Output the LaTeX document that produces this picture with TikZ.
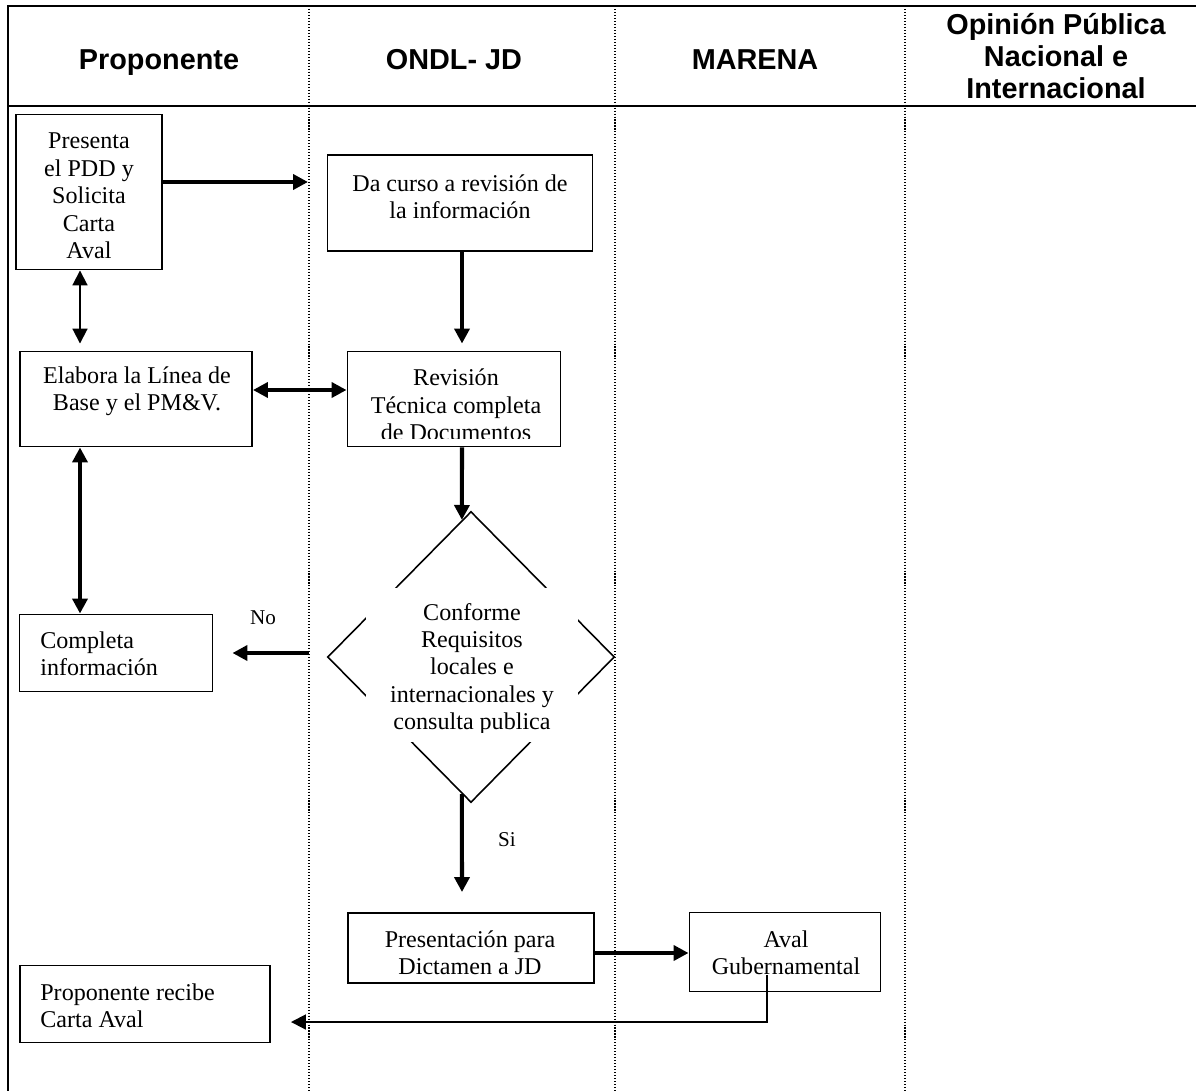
\documentclass[tikz,border=0pt]{standalone}
\usepackage{fontspec}
\setmainfont{Liberation Serif}
\newfontfamily\headfont{Liberation Sans}
\usetikzlibrary{arrows.meta,shapes.geometric,calc}
\newlength\px
\setlength\px{0.02cm}

\tikzset{
  frame/.style={line width=1.7pt},
  lanesep/.style={line width=0.6pt,dash pattern=on 0.6pt off 1.1pt},
  head/.style={font=\headfont\bfseries\fontsize{16.4}{18.4}\selectfont,align=center,inner sep=0pt},
  box/.style={draw,rectangle,line width=1.1pt,inner sep=0pt},
  txt/.style={font=\fontsize{13.7}{15.6}\selectfont,align=center,inner sep=0pt},
  tag/.style={font=\fontsize{12}{14}\selectfont,inner sep=0pt},
  flow/.style={line width=2.3pt,->},
  link/.style={line width=1.1pt,->}
}

\begin{document}
\begin{tikzpicture}[x=0.02cm,y=-0.02cm,>={Triangle[length=8.5pt,width=8.5pt]}]
  \useasboundingbox (0,0) rectangle (1196,1091);
  % lanes
  \draw[frame] (1196,6) -- (8,6) -- (8,1091);
  \draw[frame] (8,106) -- (1196,106);
  \foreach \x in {309,615,905}
    \draw[lanesep] (\x,6) -- (\x,1091);
  \node[head] (hprop) at (159,63) {Proponente};
  \node[head] (hondl) at (454,60) {ONDL- JD};
  \node[head] (hmarena) at (755,60) {MARENA};
  \node[head] (hopinion) at (1056,56) {Opinión Pública\\Nacional e\\Internacional};

  % Proponente
  \node[box,minimum width=146\px,minimum height=155\px] (presenta) at (89,192) {};
  \node[txt] (presenta-t) at (89,196) {Presenta\\el PDD y\\Solicita\\Carta\\Aval};
  \node[box,minimum width=232\px,minimum height=95\px] (elabora) at (136,399) {};
  \node[txt] (elabora-t) at (137,391) {Elabora la Línea de\\Base y el PM\&V.};
  \node[box,minimum width=193\px,minimum height=77\px] (completa) at (116,653) {};
  \node[txt,align=left,anchor=west] (completa-t) at (40,654) {Completa\\información};
  \node[box,minimum width=250\px,minimum height=77\px] (recibe) at (145,1004) {};
  \node[txt,align=left,anchor=west] (recibe-t) at (40,1006) {Proponente recibe\\Carta Aval};

  % ONDL- JD
  \node[box,minimum width=265\px,minimum height=96\px] (dacurso) at (460,203) {};
  \node[txt] (dacurso-t) at (460,197) {Da curso a revisión de\\la información};
  \node[box,minimum width=213\px,minimum height=95\px] (revision) at (454,399) {};
  \begin{scope}
    \clip (349,353) rectangle (560,438);
    \node[txt] (revision-t) at (456,405) {Revisión\\Técnica completa\\de Documentos};
  \end{scope}
  \node[draw,diamond,line width=0.9pt,inner sep=0pt,minimum width=287\px,minimum height=291\px] (decision) at (471,657) {};
  \node[fill=white,inner sep=0pt,minimum width=212\px,minimum height=154\px] (decision-bg) at (472,665) {};
  \begin{scope}
    \clip (366,588) rectangle (578,732);
    \node[txt] (decision-t) at (472,669) {Conforme\\Requisitos\\locales e\\internacionales y\\consulta publica};
  \end{scope}
  \node[box,minimum width=246\px,minimum height=70\px] (presentacion) at (471,948) {};
  \node[txt] (presentacion-t) at (470,953) {Presentación para\\Dictamen a JD};

  % MARENA
  \node[box,minimum width=191\px,minimum height=79\px] (aval) at (785,952) {};
  \node[txt] (aval-t) at (786,953) {Aval\\Gubernamental};

  % connectors
  \coordinate (colA) at (80,0);
  \coordinate (colB) at (462,0);
  \coordinate (laneB) at (308,182);
  \draw[flow] (presenta.east |- laneB) -- (laneB);
  \draw[link,<->] (presenta.south -| colA) -- ($(elabora.north -| colA)+(0,-7)$);
  \draw[flow] (dacurso.south -| colB) -- ($(revision.north -| colB)+(0,-7)$);
  \coordinate (rowA) at (0,390);
  \draw[flow,<->] (elabora.east |- rowA) -- (revision.west |- rowA);
  \draw[flow] (revision.south -| colB) -- ($(decision.north)!0.063!(decision.west)$);
  \draw[flow,<->] (elabora.south -| colA) -- (completa.north -| colA);
  \coordinate (nofrom) at (309,653);
  \draw[flow] (nofrom) -- ($(completa.east |- nofrom)+(19,0)$);
  \node[tag] (no) at (263,618) {No};
  \draw[flow] ($(decision.south)!0.063!(decision.west)$) -- ($(presentacion.north -| colB)+(0,-20)$);
  \node[tag] (si) at (507,840) {Si};
  \coordinate (rowB) at (0,953);
  \draw[flow] (presentacion.east |- rowB) -- (aval.west |- rowB);
  \coordinate (avalfrom) at (767,975);
  \coordinate (rowC) at (0,1022);
  \draw[link] (avalfrom) |- ($(recibe.east |- rowC)+(20,0)$);
\end{tikzpicture}
\end{document}
